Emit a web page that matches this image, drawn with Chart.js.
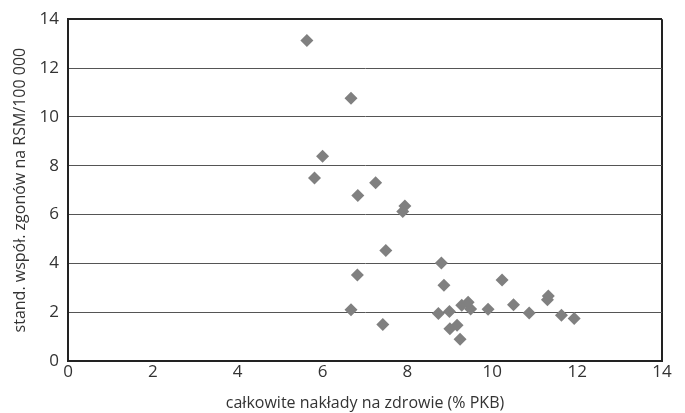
<!DOCTYPE html>
<html>
<head>
<meta charset="utf-8">
<script src="https://cdn.jsdelivr.net/npm/chart.js@4/dist/chart.umd.min.js"></script>
<style>
  body { margin: 0; background: #fff; }
  #wrap { width: 685px; height: 413px; }
</style>
</head>
<body>
<div id="wrap"><canvas id="myChart" width="685" height="413"></canvas></div>
<script>
// spending on health (% GDP) vs standardised death rate
var xValues = [5.63, 6.67, 6.00, 5.81, 7.25, 6.83, 7.94, 7.89, 7.49, 6.82,
               8.80, 8.86, 10.23, 6.67, 7.42, 8.73, 8.99, 9.28, 9.43, 9.49,
               9.90, 9.00, 9.17, 9.24, 10.50, 10.87, 11.32, 11.30, 11.63, 11.93];
var yValues = [13.13, 10.76, 8.39, 7.50, 7.30, 6.78, 6.35, 6.12, 4.53, 3.52,
               4.01, 3.10, 3.32, 2.10, 1.50, 1.95, 2.03, 2.28, 2.41, 2.13,
               2.12, 1.32, 1.46, 0.89, 2.30, 1.97, 2.66, 2.51, 1.87, 1.74];
var xTitle = 'całkowite nakłady na zdrowie (% PKB)';
var yTitle = 'stand. współ. zgonów na RSM/100 000';

var points = xValues.map(function (x, i) { return { x: x, y: yValues[i] }; });

var fontFamily = "'Open Sans', sans-serif";
var textColor = '#333';

var ctx = document.getElementById('myChart').getContext('2d');

var myChart = new Chart(ctx, {
    type: 'scatter',
    data: {
        datasets: [{
            data: points,
            pointStyle: 'rectRot',
            pointRadius: 6.5,
            backgroundColor: '#808080',
            borderColor: '#808080',
            borderWidth: 0
        }]
    },
    options: {
        responsive: false,
        animation: false,
        layout: { padding: { left: 0, right: 23, top: 16, bottom: 0 } },
        plugins: { legend: { display: false }, tooltip: { enabled: false } },
        scales: {
            x: {
                type: 'linear',
                min: 0,
                max: 14,
                ticks: { stepSize: 2, color: textColor, font: { family: fontFamily, size: 17 }, padding: 1 },
                grid: {
                    drawTicks: false,
                    color: function (c) { return c.tick && c.tick.value === 14 ? '#222' : 'rgba(0,0,0,0)'; },
                    lineWidth: 2
                },
                border: { display: true, color: '#222', width: 2 },
                title: { display: true, text: xTitle, color: textColor, font: { family: fontFamily, size: 16 }, padding: { top: 2, bottom: 0 } },
                afterFit: function (s) { s.height = 52; }
            },
            y: {
                min: 0,
                max: 14,
                ticks: { stepSize: 2, color: textColor, font: { family: fontFamily, size: 17 }, padding: 9 },
                grid: {
                    drawTicks: false,
                    color: function (c) { return c.tick && c.tick.value === 14 ? '#222' : '#555'; },
                    lineWidth: function (c) { return c.tick && c.tick.value === 14 ? 2 : 1; }
                },
                border: { display: true, color: '#222', width: 2 },
                title: { display: true, text: yTitle, color: textColor, font: { family: fontFamily, size: 16 }, padding: { top: 11, bottom: 2 } },
                afterFit: function (s) { s.width = 68; }
            }
        }
    }
});
</script>
</body>
</html>
